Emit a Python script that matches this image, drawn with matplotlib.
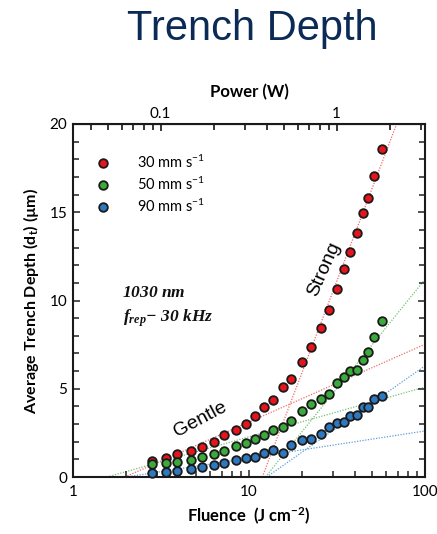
import matplotlib

matplotlib.use("Agg")
import matplotlib.pyplot as plt
from matplotlib.ticker import FixedLocator, NullFormatter, LogLocator

plt.rcParams["font.family"] = ["Lato", "DejaVu Sans"]
plt.rcParams["font.sans-serif"] = ["Lato", "DejaVu Sans"]
plt.rcParams["mathtext.fontset"] = "custom"
plt.rcParams["mathtext.rm"] = "Lato"
plt.rcParams["mathtext.bf"] = "Lato:bold"
plt.rcParams["mathtext.bfit"] = "Liberation Serif:bold:italic"

# fluence (J cm^-2) shared by all three scan speeds
fluence = [2.80, 3.36, 3.91, 4.66, 5.39, 6.33, 7.21, 8.44, 9.58, 10.8, 12.1, 13.7,
           15.7, 17.4, 20.0, 22.6, 25.5, 28.6, 31.7, 34.8, 37.5, 40.9, 44.4, 47.6,
           51.3, 56.7]
depth_30 = [0.92, 1.06, 1.29, 1.49, 1.72, 1.98, 2.38, 2.68, 3.00, 3.47, 3.97, 4.35,
            5.10, 5.54, 6.50, 7.38, 8.46, 9.46, 10.63, 11.77, 12.73, 13.81, 14.97,
            15.79, 17.05, 18.57]
depth_50 = [0.72, 0.81, 0.85, 0.96, 1.15, 1.29, 1.47, 1.76, 1.91, 2.14, 2.38, 2.68,
            2.83, 3.16, 3.74, 4.12, 4.44, 4.70, 5.33, 5.65, 6.02, 6.08, 6.63, 7.10,
            7.95, 8.82]
depth_90 = [0.21, 0.28, 0.34, 0.47, 0.55, 0.68, 0.81, 0.98, 1.09, 1.15, 1.34, 1.51,
            1.36, 1.81, 2.10, 2.17, 2.44, 2.83, 3.06, 3.10, 3.44, 3.50, 3.95, 3.97,
            4.42, 4.61]
labels = ["30 mm s$^{-1}$", "50 mm s$^{-1}$", "90 mm s$^{-1}$"]

# gentle / strong ablation fits (endpoints in fluence, depth)
gentle_F = [[1.97, 100], [1.56, 100], [2.0, 100]]
gentle_d = [[0, 7.52], [0, 5.1], [0, 2.61]]
strong_F = [[11.9, 69.0], [12.4, 100], [12.6, 100]]
strong_d = [[0, 20], [0, 11.2], [0, 6.3]]

W_PER_FLUENCE = 1 / 31.5  # power (W) = fluence / 31.5

dot_colors = ["#e8141c", "#3aab3a", "#2f78c0"]
fit_colors = ["#f06a6a", "#72c472", "#5e9fd8"]

fig = plt.figure(figsize=(4.37, 5.34), dpi=100)
ax = fig.add_axes([0.167, 0.1067, 0.8055, 0.6611])

for k in range(3):
    ax.plot(gentle_F[k], gentle_d[k], ls=(0, (1, 1.2)), lw=0.9, color=fit_colors[k], zorder=1)
    ax.plot(strong_F[k], strong_d[k], ls=(0, (1, 1.2)), lw=0.9, color=fit_colors[k], zorder=1)

for ys, c, lab in zip([depth_30, depth_50, depth_90], dot_colors, labels):
    ax.plot(fluence, ys, "o", ms=6.2, mfc=c, mec="#1a1a1a", mew=1.3, label=lab,
            zorder=3, clip_on=False)

ax.set_xscale("log")
ax.set_xlim(1, 100)
ax.set_ylim(0, 20)
ax.set_yticks([0, 5, 10, 15, 20])
ax.yaxis.set_minor_locator(FixedLocator([i for i in range(21) if i % 5]))
ax.set_xticks([1, 10, 100], ["1", "10", "100"])
ax.tick_params(which="both", direction="in", right=True, top=False, labelsize=11,
               width=1.1, color="#222222")
ax.tick_params(which="major", length=5)
ax.tick_params(which="minor", length=4)
ax.tick_params(axis="x", pad=6)
ax.tick_params(axis="y", pad=4)
for s in ax.spines.values():
    s.set_linewidth(1.5)
    s.set_color("#1a1a1a")

top = ax.secondary_xaxis("top", functions=(lambda f: f * W_PER_FLUENCE,
                                           lambda p: p / W_PER_FLUENCE))
top.set_xticks([0.1, 1], ["0.1", "1"])
top.xaxis.set_minor_locator(LogLocator(base=10, subs=range(2, 10)))
top.xaxis.set_minor_formatter(NullFormatter())
top.tick_params(which="both", direction="in", labelsize=11, width=1.1, pad=2)
top.tick_params(which="major", length=5)
top.tick_params(which="minor", length=4)
top.set_xlabel("Power (W)", fontsize=12, fontweight="bold", labelpad=7)

ax.set_xlabel(r"Fluence  (J cm$^{\mathbf{-2}}$)", fontsize=12, fontweight="bold", labelpad=5)
ax.set_ylabel(r"Average Trench Depth (d$_\mathbf{t}$) (µm)", fontsize=11.5,
              fontweight="bold", labelpad=6)

ax.legend(loc="upper left", bbox_to_anchor=(0.065, 0.915), frameon=False, fontsize=10.5,
          handlelength=1.0, handletextpad=1.8, borderpad=0, borderaxespad=0,
          labelspacing=0.3)

ax.text(0.138, 0.51, r"$\mathbfit{1030\ nm}$", transform=ax.transAxes, fontsize=12.5,
        color="#111111")
ax.text(0.141, 0.44, r"$\mathbfit{f}_{\mathbfit{rep}}\mathbfit{-\ 30\ kHz}$",
        transform=ax.transAxes, fontsize=12.5, color="#111111")
ax.text(0.361, 0.162, "Gentle", transform=ax.transAxes, fontsize=14, rotation=28,
        family="Liberation Sans", ha="center", va="center")
ax.text(0.712, 0.59, "Strong", transform=ax.transAxes, fontsize=14, rotation=66,
        family="Liberation Sans", ha="center", va="center")

fig.text(0.577, 1 - 29 / 534, "Trench Depth", fontsize=30, color="#0b2a55",
         family="Liberation Sans", ha="center", va="center")

fig.savefig("out.png", dpi=100)
